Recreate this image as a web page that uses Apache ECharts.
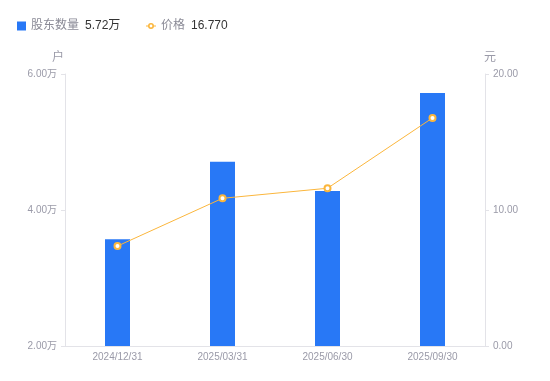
<!DOCTYPE html>
<html>
<head>
<meta charset="utf-8">
<script src="https://cdn.jsdelivr.net/npm/echarts@6/dist/echarts.min.js"></script>
<style>html,body{margin:0;padding:0;background:#fff}#c{width:550px;height:381px}</style>
</head>
<body>
<div id="c"></div>
<script>
const categories = ['2024/12/31', '2025/03/31', '2025/06/30', '2025/09/30'];
const holders = [35700, 47100, 42800, 57200];
const prices = [7.35, 10.86, 11.6, 16.77];
const legendValues = { '股东数量': '5.72万', '价格': '16.770' };

const FONT = 'Liberation Sans, "Noto Sans CJK SC", sans-serif';
const rich = {
  n: { fontSize: 12, color: '#8a8a96', fontFamily: FONT },
  v: { fontSize: 12, color: '#333', padding: [0, 0, 0, 6], fontFamily: FONT }
};
const fmt = n => `{n|${n}}{v|${legendValues[n]}}`;
const lineIcon = 'path://M0,2.5H2.2V3.5H0Z M7.8,2.5H10V3.5H7.8Z M5,0A3,3 0 1,1 4.999,0Z M5,1.6A1.4,1.4 0 1,0 5.001,1.6Z';
const chart = echarts.init(document.getElementById('c'));
chart.setOption({
  animation: false,
  textStyle: { fontFamily: FONT },
  legend: [{
    left: 12, top: 15,
    itemWidth: 9, itemHeight: 9,
    data: [{ name: '股东数量', icon: 'rect' }],
    formatter: fmt,
    textStyle: { fontFamily: FONT, rich }
  }, {
    left: 141, top: 15,
    itemWidth: 10, itemHeight: 6,
    data: [{ name: '价格', icon: lineIcon }],
    formatter: fmt,
    textStyle: { fontFamily: FONT, rich }
  }],
  grid: { left: 65, right: 65, top: 74, bottom: 35 },
  xAxis: {
    type: 'category', data: categories,
    axisLine: { lineStyle: { color: '#e3e3e8' } },
    axisTick: { show: false },
    axisLabel: { fontSize: 10, color: '#9a9aa8', margin: 6 }
  },
  yAxis: [{
    type: 'value', min: 20000, max: 60000, interval: 20000,
    name: '户', nameGap: 10,
    nameTextStyle: { color: '#9a9aa8', fontSize: 12, padding: [0, 14, 0, 0] },
    axisLine: { show: true, lineStyle: { color: '#e3e3e8' } },
    axisTick: { show: true, length: 4, lineStyle: { color: '#e3e3e8' } },
    splitLine: { show: false },
    axisLabel: { fontSize: 10, color: '#9a9aa8', margin: 8, formatter: v => (v / 10000).toFixed(2) + '万' }
  }, {
    type: 'value', min: 0, max: 20, interval: 10,
    name: '元', nameGap: 10,
    nameTextStyle: { color: '#9a9aa8', fontSize: 12, padding: [0, 0, 0, 10] },
    axisLine: { show: true, lineStyle: { color: '#e3e3e8' } },
    axisTick: { show: true, length: 4, lineStyle: { color: '#e3e3e8' } },
    splitLine: { show: false },
    axisLabel: { fontSize: 10, color: '#9a9aa8', margin: 8, formatter: v => v.toFixed(2) }
  }],
  series: [{
    name: '股东数量', type: 'bar', data: holders, barWidth: 25,
    itemStyle: { color: '#2878f6' }
  }, {
    name: '价格', type: 'line', yAxisIndex: 1, data: prices,
    symbol: 'emptyCircle', symbolSize: 6,
    lineStyle: { color: '#fbb63c', width: 1 },
    itemStyle: { color: '#fbb63c', borderWidth: 2 }
  }]
});
</script>
</body>
</html>
